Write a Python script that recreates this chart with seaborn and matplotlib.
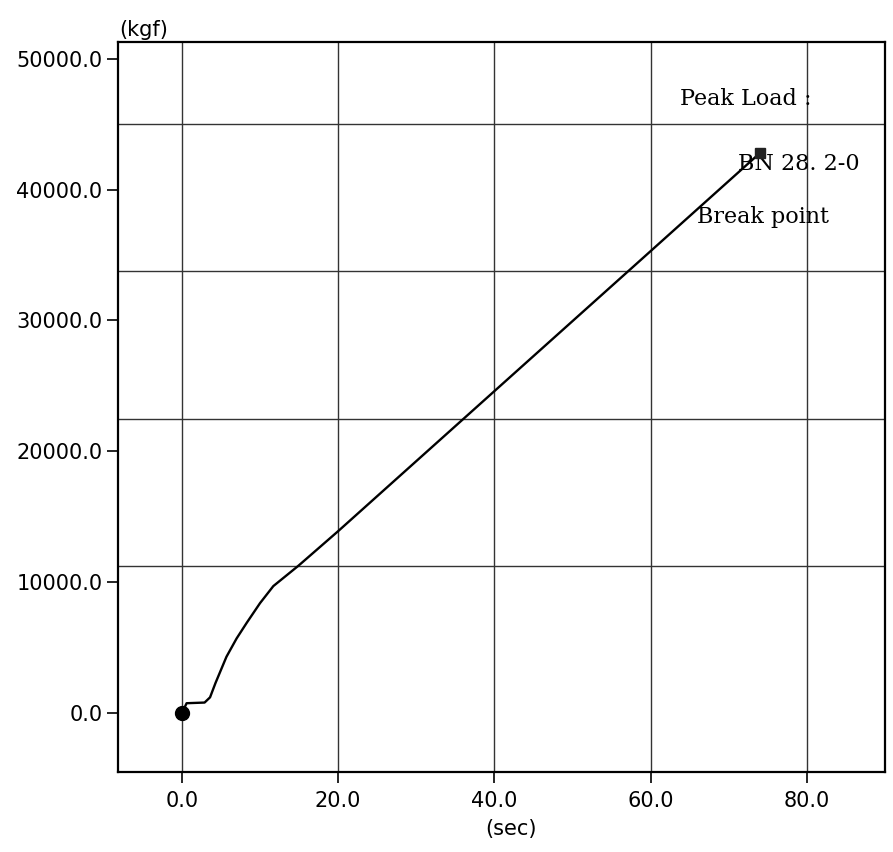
import matplotlib
matplotlib.use("Agg")
import matplotlib.pyplot as plt
import seaborn as sns
import numpy as np
import pandas as pd

# ---- data ----
time_s = [0.0, 0.6, 2.9, 3.6, 4.3, 5.7, 7.0, 8.3, 10.0, 11.7, 14.9, 20.0, 40.0, 60.0, 74.0]
load_kgf = [0, 750, 800, 1200, 2300, 4300, 5700, 6900, 8400, 9700, 11250, 13900, 24600, 35300, 42800]
x_ticks = [0.0, 20.0, 40.0, 60.0, 80.0]
y_ticks = [0.0, 10000.0, 20000.0, 30000.0, 40000.0, 50000.0]
y_grid = [0.0, 11250.0, 22500.0, 33750.0, 45000.0]
peak_time = [74.0]
peak_load = [42800]
start_time = [0.0]
start_load = [0]

df = pd.DataFrame({"t": time_s, "load": load_kgf})

sns.set_style("white")
plt.rcParams["font.family"] = ["DejaVu Sans"]
plt.rcParams["text.color"] = "black"
plt.rcParams["axes.labelcolor"] = "black"

fig = plt.figure(figsize=(8.93, 8.52), dpi=100)
ax = fig.add_axes([0.132, 0.094, 0.859, 0.857])

sns.lineplot(data=df, x="t", y="load", sort=False, color="black", lw=1.7, ax=ax)
ax.plot(start_time, start_load, "o", color="black", ms=10, zorder=5)
ax.plot(peak_time, peak_load, "s", color="#222222", ms=7, zorder=5)

ax.set_xlim(-8.2, 90.0)
ax.set_ylim(-4500, 51300)

ax.set_xticks(x_ticks)
ax.set_xticklabels([f"{v:.1f}" for v in x_ticks])
ax.set_yticks(y_ticks)
ax.set_yticklabels([f"{v:.1f}" for v in y_ticks])
ax.set_yticks(y_grid, minor=True)

ax.tick_params(axis="both", which="major", direction="out", length=8, width=1.2,
               colors="black", labelsize=15, pad=3, left=True, bottom=True)
ax.tick_params(axis="y", which="minor", length=0)
ax.tick_params(axis="x", which="major", pad=6)

ax.xaxis.grid(True, which="major", color="#333333", lw=1.0)
ax.yaxis.grid(True, which="minor", color="#333333", lw=1.0)
ax.yaxis.grid(False, which="major")
ax.set_axisbelow(True)

for s in ax.spines.values():
    s.set_visible(True)
    s.set_color("black")
    s.set_linewidth(1.6)

ax.set_xlabel("(sec)", fontsize=15, labelpad=0, color="black")
ax.xaxis.set_label_coords(0.512, -0.065)
ax.set_ylabel("")

ax.text(0.002, 1.002, "(kgf)", transform=ax.transAxes, ha="left", va="bottom",
        fontsize=15, color="black")

ax.text(0.733, 0.921, "Peak Load :", transform=ax.transAxes, ha="left", va="center",
        fontsize=16, family="DejaVu Serif", color="black")
ax.text(0.808, 0.832, "BN 28. 2-0", transform=ax.transAxes, ha="left", va="center",
        fontsize=16, family="DejaVu Serif", color="black")
ax.text(0.755, 0.760, "Break point", transform=ax.transAxes, ha="left", va="center",
        fontsize=16, family="DejaVu Serif", color="black")

fig.savefig("out.png", dpi=100, facecolor="white")
